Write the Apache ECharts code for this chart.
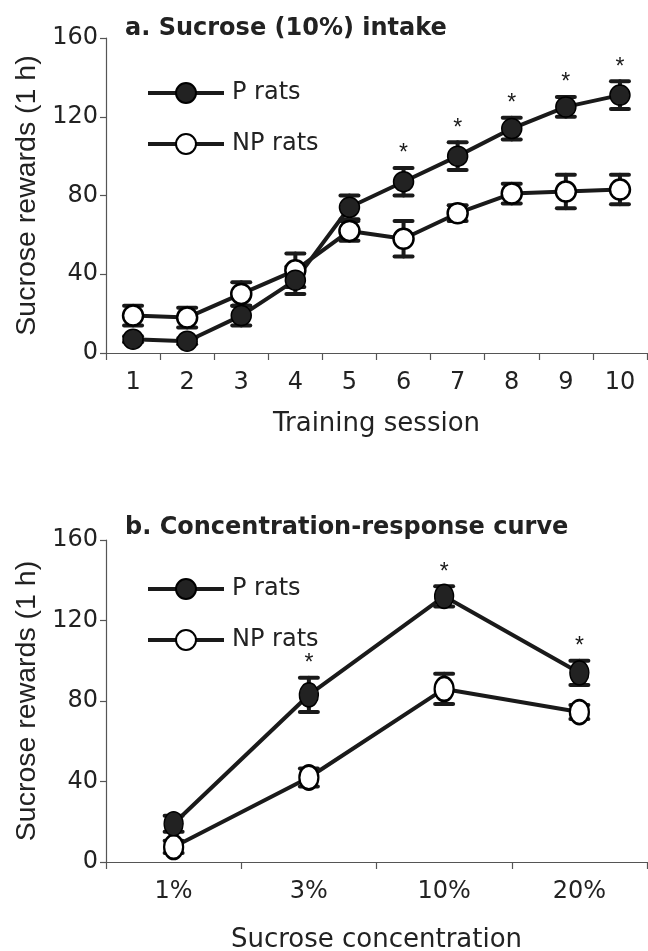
<!DOCTYPE html>
<html>
<head>
<meta charset="utf-8">
<title>Sucrose rewards</title>
<script src="https://cdn.jsdelivr.net/npm/echarts@6/dist/echarts.min.js"></script>
<style>
  html, body { margin: 0; padding: 0; background: #fff; }
  #chart { width: 648px; height: 951px; }
</style>
</head>
<body>
<div id="chart"></div>
<script>
// panel a: training sessions
const sessions = ['1', '2', '3', '4', '5', '6', '7', '8', '9', '10'];
const pRatsA = [7, 6, 19, 37, 74, 87, 100, 114, 125, 131];
const pRatsAErr = [1.5, 1.5, 5, 7, 6, 7, 7, 5.5, 5, 7];
const npRatsA = [19, 18, 30, 42, 62, 58, 71, 81, 82, 83];
const npRatsAErr = [5, 5, 6, 8.5, 5, 9, 4, 5, 8.5, 7.5];
const starsA = ['6', '7', '8', '9', '10'];

// panel b: concentration-response
const concLabels = ['1%', '3%', '10%', '20%'];
const pRatsB = [19, 83, 132, 94];
const pRatsBErr = [4, 8.5, 5, 6];
const npRatsB = [7.5, 42, 86, 74.5];
const npRatsBErr = [3, 4.5, 7.5, 3.5];
const starsB = ['3%', '10%', '20%'];

const yTicks = [0, 40, 80, 120, 160];

const INK = '#1a1a1a';
const AXIS = '#555';
const FONT = 'DejaVu Sans';

function errData(vals, errs) {
  return vals.map((v, i) => [i, v - errs[i], v + errs[i]]);
}
function starData(cats, vals, errs, stars) {
  return stars.map(s => {
    const i = cats.indexOf(s);
    return [i, vals[i] + errs[i]];
  });
}

function renderErr(params, api) {
  const x = api.value(0);
  const lo = api.coord([x, api.value(1)]);
  const hi = api.coord([x, api.value(2)]);
  const half = 9;
  const st = { stroke: INK, lineWidth: 4, lineCap: 'round' };
  return {
    type: 'group',
    children: [
      { type: 'line', shape: { x1: lo[0], y1: lo[1], x2: hi[0], y2: hi[1] }, style: st },
      { type: 'line', shape: { x1: lo[0] - half, y1: lo[1], x2: lo[0] + half, y2: lo[1] }, style: st },
      { type: 'line', shape: { x1: hi[0] - half, y1: hi[1], x2: hi[0] + half, y2: hi[1] }, style: st }
    ]
  };
}

function renderStar(params, api) {
  const p = api.coord([api.value(0), api.value(1)]);
  return {
    type: 'text',
    x: p[0],
    y: p[1] - 14,
    style: {
      text: '*',
      fill: INK,
      font: '23px "Liberation Sans"',
      textAlign: 'center',
      textVerticalAlign: 'middle'
    }
  };
}

const chart = echarts.init(document.getElementById('chart'));

function xAxisFor(gridIndex, cats, name, gap) {
  return {
    type: 'category',
    gridIndex: gridIndex,
    data: cats,
    name: name,
    nameLocation: 'middle',
    nameGap: gap,
    nameTextStyle: { fontFamily: FONT, fontSize: 26, color: '#222' },
    axisLine: { lineStyle: { color: AXIS, width: 1.2 } },
    axisTick: { show: true, length: 7, lineStyle: { color: AXIS, width: 1.2 } },
    axisLabel: { fontFamily: FONT, fontSize: 24, color: '#222', margin: 18 },
    splitLine: { show: false }
  };
}
function yAxisFor(gridIndex) {
  return {
    type: 'value',
    gridIndex: gridIndex,
    min: yTicks[0],
    max: yTicks[yTicks.length - 1],
    interval: 40,
    name: 'Sucrose rewards (1 h)',
    nameLocation: 'middle',
    nameGap: 63,
    nameTextStyle: { fontFamily: 'Liberation Sans', fontSize: 28.5, color: '#222' },
    axisLine: { show: true, lineStyle: { color: AXIS, width: 1.2 } },
    axisTick: { show: true, length: 6, lineStyle: { color: AXIS, width: 1.2 } },
    axisLabel: { fontFamily: FONT, fontSize: 24, color: '#222', margin: 8 },
    splitLine: { show: false }
  };
}

const pStyle = {
  symbol: 'circle',
  lineStyle: { color: INK, width: 4 },
  itemStyle: { color: '#222', borderColor: '#000', borderWidth: 1.5 },
  z: 3
};
const npStyle = {
  symbol: 'circle',
  lineStyle: { color: INK, width: 4 },
  itemStyle: { color: '#fff', borderColor: '#000', borderWidth: 2.5 },
  z: 3
};

function legendFor(top) {
  return {
    orient: 'vertical',
    left: 141,
    top: top,
    itemWidth: 76,
    itemHeight: 25,
    itemGap: 27,
    selectedMode: false,
    data: ['P rats', 'NP rats'],
    lineStyle: { width: 4, color: INK },
    textStyle: { fontFamily: FONT, fontSize: 24, color: '#222', padding: [0, 0, 0, 3] }
  };
}

const option = {
  backgroundColor: '#fff',
  animation: false,
  title: [
    { text: 'a. Sucrose (10%) intake', left: 120, top: 12,
      textStyle: { fontFamily: FONT, fontWeight: 'bold', fontSize: 24, color: '#222' } },
    { text: 'b. Concentration-response curve', left: 120, top: 511,
      textStyle: { fontFamily: FONT, fontWeight: 'bold', fontSize: 24, color: '#222' } }
  ],
  legend: [legendFor(76), legendFor(572)],
  grid: [
    { left: 106, right: 1, top: 38, height: 315, outerBoundsMode: 'none' },
    { left: 106, right: 1, top: 540, height: 322, outerBoundsMode: 'none' }
  ],
  xAxis: [
    xAxisFor(0, sessions, 'Training session', 58),
    xAxisFor(1, concLabels, 'Sucrose concentration', 65)
  ],
  yAxis: [yAxisFor(0), yAxisFor(1)],
  series: [
    { type: 'custom', xAxisIndex: 0, yAxisIndex: 0, renderItem: renderErr,
      data: errData(pRatsA, pRatsAErr), z: 1 },
    { type: 'custom', xAxisIndex: 0, yAxisIndex: 0, renderItem: renderErr,
      data: errData(npRatsA, npRatsAErr), z: 1 },
    Object.assign({ type: 'line', name: 'NP rats', xAxisIndex: 0, yAxisIndex: 0,
      symbolSize: 20, data: npRatsA }, npStyle),
    Object.assign({ type: 'line', name: 'P rats', xAxisIndex: 0, yAxisIndex: 0,
      symbolSize: 20, data: pRatsA }, pStyle),
    { type: 'custom', xAxisIndex: 0, yAxisIndex: 0, renderItem: renderStar,
      data: starData(sessions, pRatsA, pRatsAErr, starsA), z: 4 },

    { type: 'custom', xAxisIndex: 1, yAxisIndex: 1, renderItem: renderErr,
      data: errData(pRatsB, pRatsBErr), z: 1 },
    { type: 'custom', xAxisIndex: 1, yAxisIndex: 1, renderItem: renderErr,
      data: errData(npRatsB, npRatsBErr), z: 1 },
    Object.assign({ type: 'line', name: 'NP rats', xAxisIndex: 1, yAxisIndex: 1,
      symbolSize: [19, 24], data: npRatsB }, npStyle),
    Object.assign({ type: 'line', name: 'P rats', xAxisIndex: 1, yAxisIndex: 1,
      symbolSize: [19, 24], data: pRatsB }, pStyle),
    { type: 'custom', xAxisIndex: 1, yAxisIndex: 1, renderItem: renderStar,
      data: starData(concLabels, pRatsB, pRatsBErr, starsB), z: 4 }
  ]
};

chart.setOption(option);
</script>
</body>
</html>
